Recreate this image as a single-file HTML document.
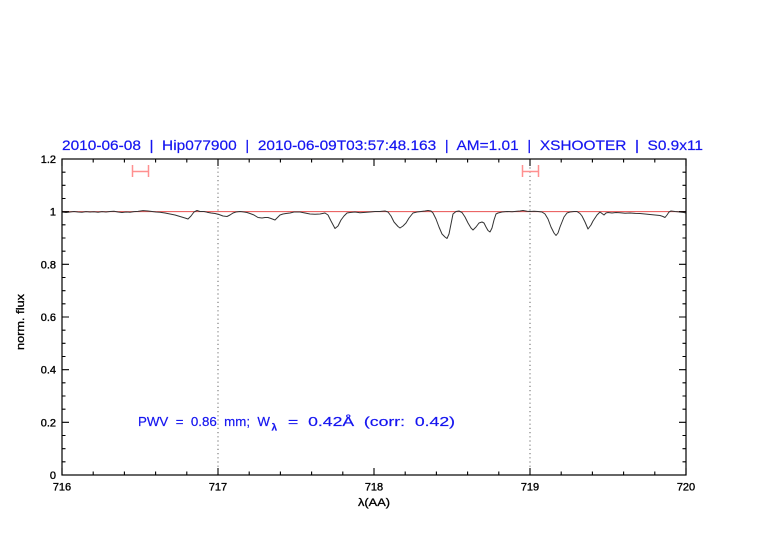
<!DOCTYPE html>
<html>
<head>
<meta charset="utf-8">
<style>
html,body{margin:0;padding:0;background:#fff;}
svg{display:block;}
text{font-family:"Liberation Sans","DejaVu Sans",sans-serif;white-space:pre;}
</style>
</head>
<body>
<svg width="782" height="542" viewBox="0 0 782 542" xmlns="http://www.w3.org/2000/svg" xml:space="preserve">
<rect width="782" height="542" fill="#fff"/>

<!-- title -->
<text x="62" y="150" font-size="14" fill="#1515f0" stroke="#1515f0" stroke-width="0.2" textLength="641" lengthAdjust="spacingAndGlyphs">2010-06-08  |  Hip077900  |  2010-06-09T03:57:48.163  |  AM=1.01  |  XSHOOTER  |  S0.9x11</text>

<!-- reference line at 1 -->
<line x1="62" y1="211.67" x2="686" y2="211.67" stroke="#e85050" stroke-width="1"/>

<!-- dotted verticals -->
<line x1="218" y1="159" x2="218" y2="475" stroke="#555" stroke-width="0.9" stroke-dasharray="1.2,3"/>
<line x1="530" y1="159" x2="530" y2="475" stroke="#555" stroke-width="0.9" stroke-dasharray="1.2,3"/>

<!-- spectrum -->
<polyline fill="none" stroke="#333" stroke-width="1" stroke-linejoin="round" points="
62,212 66,212.5 70,212 74,211.5 78,212 82,212.3 86,211.6 90,212 94,211.8 98,212.2 102,211.6 106,212 110,211.5 114,211.2 118,212 122,212.5 126,212 130,212.2 134,211.6 138,211.4 143,210.6 148,211 152,211.5 156,212 160,212.2 165,213 170,214 175,215 180,216.5 185,218 188,219 191,216 194,212 197,210.5 200,211.5 204,211.5 207,212.2 211,213 215,213.5 219,214.5 223,216 227,216.5 230,215 233,213 236,212 240,211.5 244,212 247,212.5 250,213.5 254,215 258,217.5 262,218 265,217.5 268,217.5 271,218.5 275,220 278,217 280,215 283,214 286,213.5 290,213 294,212 300,212 305,213 310,214 315,214.2 320,214 325,213 328,215 331,221 335,228.5 338,226 341,220 344,216 347,213 350,212.5 355,212 360,212.8 365,212.4 370,212 375,211.5 380,211.5 385,211 388,212 391,216 394,222 398,226.5 400,228 403,226 406,223 409,218 413,213 417,212 421,211.5 425,211 428,210.5 431,211 433,213 436,219 439,227 442,234 445,237 447,238.5 449,234 451,224 453,214 456,211.5 459,211 462,212.5 465,217 468,223 471,228 473,230 476,227 479,223 482,222 484,223 486,227 488,230.5 490,232 492,228 494,220 496,214 498,213 502,212 507,211.5 512,211.8 517,211.2 520,211 523,210.5 527,211.2 530,211.5 534,211.2 538,211.5 542,212 545,214 548,219 551,227 554,233 556,235.5 558,233 560,227 562,222 564,217 567,213 570,212 574,211.5 577,211.5 580,213.5 582,216 585,222 588,229 591,225 593,221 595,218 597,215 600,212 602,213.5 604,215 606,213 608,212.5 612,213 616,212.5 620,212.8 625,213.2 630,213 635,213.4 640,213.5 645,214 650,214.5 655,215 660,215.5 663,216.5 665,217.5 667,215 669,212 671,211 675,211.5 680,212 684,212.5 686,213"/>

<!-- error bars -->
<g stroke="#ff9090" stroke-width="1.5" fill="none">
<path d="M132.5 165 V177 M148.5 165 V177 M132.5 171.5 H148.5"/>
<path d="M522.5 165 V177 M538.5 165 V177 M522.5 171.5 H538.5"/>
</g>

<!-- frame -->
<rect x="62" y="159" width="624" height="316" fill="none" stroke="#000" stroke-width="1.2"/>

<!-- ticks -->
<g stroke="#000" stroke-width="1.1" fill="none">
<path d="M62 475 h7 M62 461.83 h3.5 M62 448.67 h3.5 M62 435.5 h3.5 M62 422.33 h7 M62 409.17 h3.5 M62 396 h3.5 M62 382.83 h3.5 M62 369.67 h7 M62 356.5 h3.5 M62 343.33 h3.5 M62 330.17 h3.5 M62 317 h7 M62 303.83 h3.5 M62 290.67 h3.5 M62 277.5 h3.5 M62 264.33 h7 M62 251.17 h3.5 M62 238 h3.5 M62 224.83 h3.5 M62 211.67 h7 M62 198.5 h3.5 M62 185.33 h3.5 M62 172.17 h3.5 M62 159 h7"/>
<path d="M686 475 h-7 M686 461.83 h-3.5 M686 448.67 h-3.5 M686 435.5 h-3.5 M686 422.33 h-7 M686 409.17 h-3.5 M686 396 h-3.5 M686 382.83 h-3.5 M686 369.67 h-7 M686 356.5 h-3.5 M686 343.33 h-3.5 M686 330.17 h-3.5 M686 317 h-7 M686 303.83 h-3.5 M686 290.67 h-3.5 M686 277.5 h-3.5 M686 264.33 h-7 M686 251.17 h-3.5 M686 238 h-3.5 M686 224.83 h-3.5 M686 211.67 h-7 M686 198.5 h-3.5 M686 185.33 h-3.5 M686 172.17 h-3.5 M686 159 h-7"/>
<path d="M62 475 v-7 M93.2 475 v-3.5 M124.4 475 v-3.5 M155.6 475 v-3.5 M186.8 475 v-3.5 M218 475 v-7 M249.2 475 v-3.5 M280.4 475 v-3.5 M311.6 475 v-3.5 M342.8 475 v-3.5 M374 475 v-7 M405.2 475 v-3.5 M436.4 475 v-3.5 M467.6 475 v-3.5 M498.8 475 v-3.5 M530 475 v-7 M561.2 475 v-3.5 M592.4 475 v-3.5 M623.6 475 v-3.5 M654.8 475 v-3.5 M686 475 v-7"/>
<path d="M62 159 v7 M93.2 159 v3.5 M124.4 159 v3.5 M155.6 159 v3.5 M186.8 159 v3.5 M218 159 v7 M249.2 159 v3.5 M280.4 159 v3.5 M311.6 159 v3.5 M342.8 159 v3.5 M374 159 v7 M405.2 159 v3.5 M436.4 159 v3.5 M467.6 159 v3.5 M498.8 159 v3.5 M530 159 v7 M561.2 159 v3.5 M592.4 159 v3.5 M623.6 159 v3.5 M654.8 159 v3.5 M686 159 v7"/>
</g>

<!-- y tick labels -->
<g font-size="11" fill="#000" text-anchor="end" stroke="#000" stroke-width="0.35">
<text x="56" y="479">0</text>
<text x="56" y="426.3">0.2</text>
<text x="56" y="373.7">0.4</text>
<text x="56" y="321">0.6</text>
<text x="56" y="268.3">0.8</text>
<text x="56" y="215.7">1</text>
<text x="56" y="163">1.2</text>
</g>

<!-- x tick labels -->
<g font-size="11" fill="#000" text-anchor="middle" stroke="#000" stroke-width="0.35">
<text x="62" y="490.5">716</text>
<text x="218" y="490.5">717</text>
<text x="374" y="490.5">718</text>
<text x="530" y="490.5">719</text>
<text x="686" y="490.5">720</text>
</g>

<!-- axis labels -->
<text x="374" y="506" font-size="11" text-anchor="middle" fill="#000" stroke="#000" stroke-width="0.3" textLength="32" lengthAdjust="spacingAndGlyphs">λ(AA)</text>
<text transform="translate(24,322) rotate(-90)" font-size="11" text-anchor="middle" fill="#000" stroke="#000" stroke-width="0.3" textLength="56" lengthAdjust="spacingAndGlyphs">norm. flux</text>

<!-- PWV annotation -->
<g fill="#1515f0" stroke="#1515f0" stroke-width="0.2" font-size="13">
<text x="138" y="426" textLength="132" lengthAdjust="spacingAndGlyphs">PWV  =  0.86  mm;  W</text>
<text x="271.5" y="430.5" font-size="10" font-weight="bold">λ</text>
<text x="288" y="426" textLength="167" lengthAdjust="spacingAndGlyphs">=  0.42Å  (corr:  0.42)</text>
</g>
</svg>
</body>
</html>
